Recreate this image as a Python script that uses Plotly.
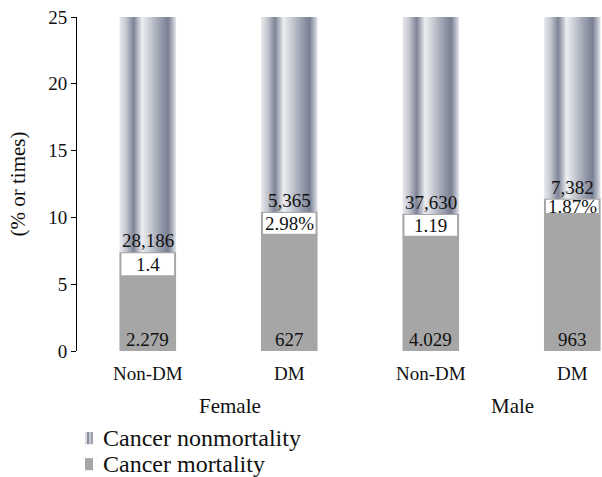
import plotly.graph_objects as go

# Subgroups along the x axis, grouped by sex
subgroups = ["Non-DM", "DM", "Non-DM", "DM"]
sexes = ["Female", "Male"]

# Cancer mortality (grey bars, % or times)
mortality = [5.6, 8.7, 8.55, 10.25]
# Level where the cancer nonmortality segment begins
nonmort_base = [7.4, 10.4, 10.25, 11.4]
# Top of the nonmortality segment
nonmort_top = [25, 25, 25, 25]

ratio_labels = ["1.4", "2.98%", "1.19", "1.87%"]
nonmort_counts = ["28,186", "5,365", "37,630", "7,382"]
mort_counts = ["2.279", "627", "4.029", "963"]

GREY = "#a6a6a6"
FONT = "Liberation Serif"
TXT = "#111111"
BAR_W = 0.4

# Two-cylinder shading used for the nonmortality columns
stripe_scale = [
    [0.00, "#e9eaee"], [0.12, "#c3c6cf"], [0.25, "#7e8497"], [0.31, "#a9adba"],
    [0.40, "#eceef1"], [0.50, "#d3d6dc"], [0.70, "#9ea3b2"], [0.86, "#7a8093"],
    [0.94, "#b3b7c3"], [1.00, "#e4e6ea"],
]

xs = list(range(len(subgroups)))
fig = go.Figure()

# Cancer mortality
fig.add_trace(go.Bar(
    x=xs, y=mortality, width=BAR_W, marker=dict(color=GREY, line=dict(width=0)),
    name="Cancer mortality", showlegend=False, hoverinfo="skip",
))

# White gap segment with grey rim between mortality and nonmortality
gap = [b - m for b, m in zip(nonmort_base, mortality)]
fig.add_trace(go.Bar(
    x=xs, y=gap, base=mortality, width=BAR_W - 0.014,
    marker=dict(color="white", line=dict(color=GREY, width=2)),
    showlegend=False, hoverinfo="skip",
))

# Cancer nonmortality columns, shaded with a horizontal gradient
for i, (b, t) in enumerate(zip(nonmort_base, nonmort_top)):
    x0, x1 = xs[i] - BAR_W / 2, xs[i] + BAR_W / 2
    fig.add_trace(go.Scatter(
        x=[x0, x1, x1, x0, x0], y=[b, b, t, t, b],
        mode="lines", line=dict(width=0), fill="toself",
        fillgradient=dict(type="horizontal", colorscale=stripe_scale),
        showlegend=False, hoverinfo="skip",
    ))

annotations = []
for i in xs:
    # count above the gap
    annotations.append(dict(x=xs[i], y=nonmort_base[i], text=nonmort_counts[i],
                            showarrow=False, yanchor="bottom", yshift=-1,
                            font=dict(family=FONT, size=19, color=TXT)))
    # ratio in the white gap
    annotations.append(dict(x=xs[i], y=(nonmort_base[i] + mortality[i]) / 2,
                            text=ratio_labels[i], showarrow=False, yanchor="middle",
                            font=dict(family=FONT, size=19, color=TXT)))
    # count at the foot of the mortality bar
    annotations.append(dict(x=xs[i], y=0, text=mort_counts[i], showarrow=False,
                            yanchor="bottom", yshift=-1,
                            font=dict(family=FONT, size=19, color=TXT)))

# Sex group labels under the subgroup ticks
for g, sex in enumerate(sexes):
    annotations.append(dict(x=(xs[2 * g] + xs[2 * g + 1]) / 2, y=0, yref="y",
                            text=sex, showarrow=False, yanchor="middle",
                            yshift=-55, xshift=11,
                            font=dict(family=FONT, size=21, color=TXT)))

# Legend drawn by hand
legend_items = ["Cancer nonmortality", "Cancer mortality"]
for k, label in enumerate(legend_items):
    annotations.append(dict(xref="paper", yref="paper", x=(101 - 77) / 525,
                            y=-(k * 26 + 87) / 333.5, text=label, showarrow=False,
                            xanchor="left", yanchor="middle",
                            font=dict(family=FONT, size=24, color=TXT)))

shapes = []
leg_x0 = (85 - 77) / 525
px = 1 / 525
py = 1 / 333.5
sym_cols = ["#d9dbe1", "#8d92a2", "#c4c7cf", "#9ea2b0"]
for j, c in enumerate(sym_cols):
    shapes.append(dict(type="rect", xref="paper", yref="paper",
                       x0=leg_x0 + j * 2 * px, x1=leg_x0 + (j + 1) * 2 * px,
                       y0=-(87 + 6) * py, y1=-(87 - 6) * py,
                       fillcolor=c, line=dict(width=0)))
shapes.append(dict(type="rect", xref="paper", yref="paper",
                   x0=leg_x0, x1=leg_x0 + 8 * px,
                   y0=-(113 + 6) * py, y1=-(113 - 6) * py,
                   fillcolor=GREY, line=dict(width=0)))

fig.update_layout(
    width=602, height=477,
    margin=dict(l=77, r=0, t=17, b=126),
    plot_bgcolor="white", paper_bgcolor="white",
    barmode="overlay", showlegend=False,
    font=dict(family=FONT, size=19, color=TXT),
    annotations=annotations, shapes=shapes,
    xaxis=dict(range=[-0.5, 3.21], tickvals=xs, ticktext=subgroups,
               showgrid=False, zeroline=False, showline=False,
               ticks="outside", ticklen=5, tickcolor="rgba(0,0,0,0)",
               tickfont=dict(family=FONT, size=19, color=TXT)),
    yaxis=dict(range=[0, 25], tickvals=[0, 5, 10, 15, 20, 25],
               showgrid=False, zeroline=False, showline=True,
               linecolor="black", linewidth=1, ticks="outside", ticklen=5,
               tickcolor="black", tickfont=dict(family=FONT, size=19, color=TXT),
               title=dict(text="(% or times)", font=dict(family=FONT, size=21, color=TXT),
                          standoff=16)),
)

fig.write_html("out.html")
